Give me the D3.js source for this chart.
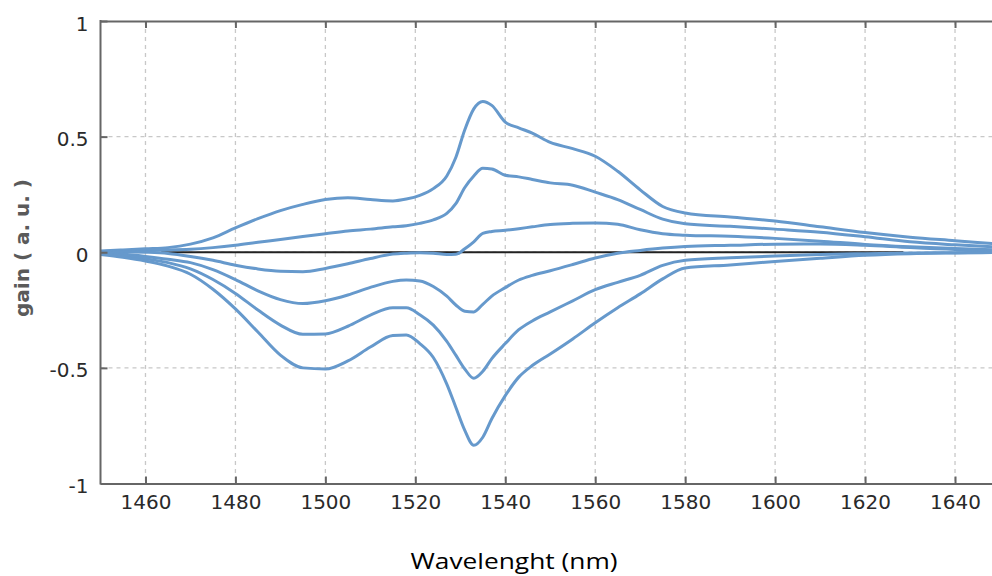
<!DOCTYPE html>
<html>
<head>
<meta charset="utf-8">
<script src="https://cdn.jsdelivr.net/npm/d3@7"></script>
<style>
    body { margin: 0; background: #fff; }
    .grid line { stroke: #c8c8c8; stroke-width: 1.3; stroke-dasharray: 4,4; }
    .axis path, .axis line { stroke: #666; stroke-width: 2; }
    .axis text { font-family: "DejaVu Sans", Verdana, sans-serif; font-size: 20px; fill: #2a2a2a; }
    .curve { fill: none; stroke: #6699cc; stroke-width: 3; }
</style>
</head>
<body>
<svg id="chart" width="992" height="576"></svg>
<script>
// wavelength grid (nm), shared by all six curves
var wl = [1450, 1455, 1460, 1465, 1470, 1475, 1480, 1485, 1490, 1495,
          1500, 1505, 1510, 1515, 1518, 1521, 1524, 1527, 1529, 1531,
          1533, 1535, 1537, 1540, 1543, 1546, 1550, 1555, 1560, 1565,
          1570, 1575, 1580, 1590, 1600, 1610, 1620, 1630, 1640, 1650];

var gainA = [0.005, 0.01, 0.015, 0.02, 0.035, 0.062, 0.105, 0.145, 0.18, 0.207,
             0.228, 0.236, 0.228, 0.222, 0.23, 0.246, 0.275, 0.33, 0.41, 0.53,
             0.62, 0.652, 0.635, 0.563, 0.538, 0.515, 0.475, 0.448, 0.415, 0.35,
             0.27, 0.198, 0.17, 0.152, 0.135, 0.11, 0.085, 0.065, 0.05, 0.035];
var gainB = [0.003, 0.006, 0.009, 0.01, 0.013, 0.02, 0.03, 0.043, 0.055, 0.068,
             0.08, 0.092, 0.1, 0.11, 0.115, 0.125, 0.14, 0.168, 0.21, 0.28,
             0.33, 0.363, 0.36, 0.333, 0.326, 0.315, 0.3, 0.29, 0.26, 0.228,
             0.185, 0.143, 0.123, 0.112, 0.1, 0.087, 0.067, 0.045, 0.032, 0.022];
var gainC = [0.001, 0.002, 0.0, -0.005, -0.018, -0.035, -0.056, -0.072, -0.082, -0.084,
             -0.07, -0.05, -0.027, -0.008, -0.004, -0.002, -0.004, -0.01, -0.009, 0.015,
             0.045, 0.082, 0.09, 0.095, 0.102, 0.11, 0.12, 0.125, 0.127, 0.121,
             0.097, 0.08, 0.074, 0.069, 0.06, 0.048, 0.034, 0.024, 0.016, 0.01];
var gainD = [-0.002, -0.008, -0.018, -0.03, -0.045, -0.075, -0.118, -0.167, -0.205, -0.222,
             -0.21, -0.185, -0.152, -0.126, -0.12, -0.124, -0.148, -0.19, -0.228, -0.255,
             -0.258, -0.225, -0.19, -0.153, -0.12, -0.1, -0.08, -0.053, -0.025, -0.004,
             0.008, 0.018, 0.025, 0.03, 0.035, 0.036, 0.03, 0.02, 0.012, 0.008];
var gainE = [-0.005, -0.015, -0.028, -0.045, -0.072, -0.118, -0.178, -0.25, -0.315, -0.355,
             -0.353, -0.32, -0.272, -0.24, -0.24, -0.27, -0.315, -0.385, -0.445, -0.505,
             -0.545, -0.515, -0.46, -0.395, -0.335, -0.297, -0.258, -0.21, -0.162, -0.13,
             -0.1, -0.057, -0.035, -0.024, -0.016, -0.01, -0.006, -0.003, -0.002, 0.0];
var gainF = [-0.01, -0.022, -0.038, -0.06, -0.095, -0.16, -0.245, -0.345, -0.445, -0.5,
             -0.505, -0.47, -0.41, -0.36, -0.358, -0.395, -0.455, -0.57, -0.67, -0.77,
             -0.835, -0.8, -0.72, -0.62, -0.54, -0.49, -0.44, -0.375, -0.305, -0.24,
             -0.18, -0.115, -0.068, -0.055, -0.04, -0.026, -0.013, -0.006, -0.003, -0.001];

var series = [gainA, gainB, gainC, gainD, gainE, gainF];

// black zero line drawn under the curves
var zeroLine = [1463.5, 1628.5];

var xTicks = [1460, 1480, 1500, 1520, 1540, 1560, 1580, 1600, 1620, 1640];
var yTicks = [-1, -0.5, 0, 0.5, 1];

var svg = d3.select("#chart");
var pLeft = 100.5, pRight = 1000, pTop = 21, pBottom = 483.5;

var x = d3.scaleLinear().domain([1450, 1650]).range([pLeft, pRight]);
var y = d3.scaleLinear().domain([-1, 1]).range([pBottom, pTop]);

// grid
var grid = svg.append("g").attr("class", "grid");
grid.selectAll(".vg")
    .data(xTicks)
    .enter().append("line")
    .attr("x1", function(d) { return x(d); })
    .attr("x2", function(d) { return x(d); })
    .attr("y1", pTop)
    .attr("y2", pBottom);
grid.selectAll(".hg")
    .data(yTicks.filter(function(d) { return d > -1 && d < 1; }))
    .enter().append("line")
    .attr("x1", pLeft)
    .attr("x2", pRight)
    .attr("y1", function(d) { return y(d); })
    .attr("y2", function(d) { return y(d); });

// zero line
svg.append("line")
    .attr("x1", x(zeroLine[0]))
    .attr("x2", x(zeroLine[1]))
    .attr("y1", y(0))
    .attr("y2", y(0))
    .attr("stroke", "#222")
    .attr("stroke-width", 2);

// curves
var line = d3.line()
    .x(function(d, i) { return x(wl[i]); })
    .y(function(d) { return y(d); })
    .curve(d3.curveMonotoneX);

svg.selectAll(".curve")
    .data(series)
    .enter().append("path")
    .attr("class", "curve")
    .attr("d", line);

// axes
svg.append("g")
    .attr("class", "axis")
    .attr("transform", "translate(0," + pBottom + ")")
    .call(d3.axisBottom(x).tickValues(xTicks).tickSizeInner(-7).tickSizeOuter(0)
          .tickPadding(11).tickFormat(d3.format("d")));

svg.append("g")
    .attr("class", "axis")
    .attr("transform", "translate(0," + pTop + ")")
    .call(d3.axisTop(x).tickValues(xTicks).tickSizeInner(-7).tickSizeOuter(0)
          .tickFormat(""));

var yAxis = svg.append("g")
    .attr("class", "axis")
    .attr("transform", "translate(" + pLeft + ",0)")
    .call(d3.axisLeft(y).tickValues(yTicks).tickSizeInner(-7).tickSizeOuter(0)
          .tickPadding(12).tickFormat(function(d) { return String(d); }));
yAxis.selectAll("text").attr("dy", "0.45em");
yAxis.selectAll(".domain").remove();
svg.append("line")
    .attr("x1", pLeft).attr("x2", pLeft)
    .attr("y1", pTop - 1).attr("y2", pBottom + 1)
    .attr("stroke", "#666").attr("stroke-width", 2);

// labels
svg.append("text")
    .attr("transform", "translate(29,248) rotate(-90)")
    .attr("text-anchor", "middle")
    .attr("textLength", 138)
    .attr("lengthAdjust", "spacing")
    .style("font-family", "DejaVu Sans, Verdana, sans-serif")
    .style("font-size", "20px")
    .style("font-weight", "600")
    .style("fill", "#5a5a5a")
    .text("gain ( a. u. )");

svg.append("text")
    .attr("x", 514)
    .attr("y", 569)
    .attr("text-anchor", "middle")
    .attr("textLength", 207)
    .attr("lengthAdjust", "spacingAndGlyphs")
    .style("font-family", "Open Sans, sans-serif")
    .style("font-size", "21px")
    .style("fill", "#000")
    .text("Wavelenght (nm)");
</script>
</body>
</html>
